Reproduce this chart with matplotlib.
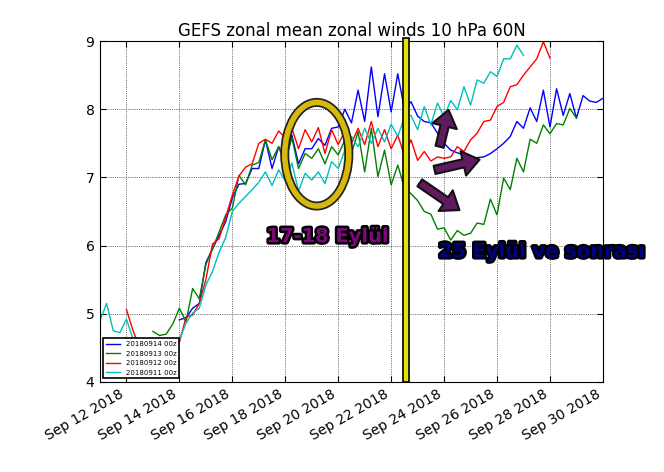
import numpy as np
import matplotlib
matplotlib.use("Agg")
import matplotlib.pyplot as plt
import matplotlib.dates as mdates
import matplotlib.patheffects as pe
from matplotlib.patches import Ellipse, Rectangle
from datetime import datetime, timedelta

# GEFS runs, 6-hourly values over 16 days (65 points each)
runs = ["20180914 00z", "20180913 00z", "20180912 00z", "20180911 00z"]
run_start = [datetime(2018, 9, 14), datetime(2018, 9, 13), datetime(2018, 9, 12), datetime(2018, 9, 11)]
run_color = ["b", "g", "r", "c"]

u_0914 = [4.91, 4.94, 5.08, 5.15, 5.75, 5.95, 6.15, 6.35, 6.70, 6.90,
          6.91, 7.13, 7.13, 7.55, 7.13, 7.45, 7.20, 7.62, 7.20, 7.42,
          7.42, 7.57, 7.47, 7.72, 7.74, 8.00, 7.80, 8.28, 7.82, 8.62,
          7.89, 8.52, 7.96, 8.52, 8.00, 8.11, 7.90, 7.82, 7.80, 7.65,
          7.50, 7.40, 7.36, 7.33, 7.28, 7.29, 7.30, 7.35, 7.42, 7.50,
          7.60, 7.82, 7.72, 8.02, 7.82, 8.28, 7.74, 8.30, 7.91, 8.23,
          7.87, 8.20, 8.12, 8.10, 8.16]
u_0913 = [4.74, 4.68, 4.70, 4.85, 5.08, 4.88, 5.37, 5.22, 5.72, 5.95,
          6.20, 6.45, 6.55, 7.03, 6.89, 7.18, 7.22, 7.55, 7.26, 7.45,
          7.25, 7.58, 7.13, 7.35, 7.28, 7.42, 7.20, 7.45, 7.33, 7.55,
          7.35, 7.67, 7.08, 7.72, 7.01, 7.40, 6.89, 7.18, 6.85, 6.76,
          6.66, 6.50, 6.46, 6.24, 6.26, 6.08, 6.22, 6.15, 6.18, 6.33,
          6.31, 6.68, 6.45, 6.99, 6.82, 7.28, 7.08, 7.56, 7.50, 7.77,
          7.64, 7.79, 7.77, 8.01, 7.87]
u_0912 = [5.06, 4.75, 4.50, 4.45, 4.48, 4.45, 4.42, 4.45, 4.58, 4.95,
          4.98, 5.15, 5.50, 6.02, 6.10, 6.42, 6.74, 7.02, 7.15, 7.20,
          7.50, 7.56, 7.50, 7.68, 7.58, 7.72, 7.42, 7.70, 7.52, 7.73,
          7.35, 7.70, 7.48, 7.68, 7.50, 7.72, 7.48, 7.82, 7.45, 7.70,
          7.42, 7.62, 7.32, 7.55, 7.25, 7.38, 7.24, 7.30, 7.28, 7.30,
          7.45, 7.38, 7.55, 7.65, 7.82, 7.84, 8.04, 8.10, 8.33, 8.36,
          8.50, 8.62, 8.74, 8.99, 8.75]
u_0911 = [4.90, 5.15, 4.75, 4.72, 4.92, 4.62, 4.55, 4.50, 4.48, 4.45,
          4.42, 4.45, 4.62, 4.86, 5.01, 5.08, 5.42, 5.62, 5.90, 6.12,
          6.50, 6.62, 6.72, 6.82, 6.93, 7.08, 6.88, 7.11, 6.95, 7.21,
          6.80, 7.06, 6.96, 7.08, 6.91, 7.23, 7.13, 7.40, 7.60, 7.45,
          7.72, 7.50, 7.72, 7.52, 7.78, 7.60, 7.88, 7.91, 7.70, 8.04,
          7.77, 8.09, 7.89, 8.13, 7.99, 8.33, 8.06, 8.43, 8.38, 8.55,
          8.48, 8.74, 8.74, 8.94, 8.79]
run_values = [u_0914, u_0913, u_0912, u_0911]

fig = plt.figure(figsize=(6.64, 4.72), dpi=100)
ax = fig.add_axes([0.1506, 0.191, 0.7574, 0.722])

for name, start, col, vals in zip(runs, run_start, run_color, run_values):
    times = [start + timedelta(hours=6 * i) for i in range(len(vals))]
    ax.plot(times, vals, color=col, lw=1, label=name)

ax.set_xlim(datetime(2018, 9, 11), datetime(2018, 9, 30))
ax.set_ylim(4, 9)
ax.set_yticks(range(4, 10))
ax.xaxis.set_major_locator(mdates.DayLocator(bymonthday=range(12, 31, 2)))
ax.xaxis.set_major_formatter(mdates.DateFormatter("%b %d %Y"))
ax.grid(True, color="k", linestyle=":", linewidth=0.5)
ax.tick_params(direction="in", top=True, right=True, length=4, labelsize=10, pad=4)
plt.setp(ax.get_xticklabels(), rotation=30, ha="right")
ax.set_title("GEFS zonal mean zonal winds 10 hPa 60N", fontsize=12, pad=4)

leg = ax.legend(loc="lower left", fontsize=5, fancybox=False, framealpha=1)
leg.get_frame().set_edgecolor("k")
leg.get_frame().set_linewidth(1.2)

d0 = mdates.date2num(datetime(2018, 9, 11))

# highlight ellipse around 17-18 Sept
ell = Ellipse((d0 + 8.19, 7.34), 2.42, 1.52, fill=False, edgecolor="#d8b80a", lw=4, zorder=5)
ell.set_path_effects([pe.Stroke(linewidth=6.5, foreground="#222222"), pe.Normal()])
ax.add_patch(ell)

# vertical marker bar
bar = Rectangle((d0 + 11.45, 0), 0.22, 1.01, transform=ax.get_xaxis_transform(),
                facecolor="#e3e30a", edgecolor="k", lw=1.2, clip_on=False, zorder=6)
ax.add_patch(bar)

# arrows
arrow_style = "simple,head_width=1.8,head_length=1.2,tail_width=0.6"
arrows = [((12.83, 7.45), (13.17, 7.99)),
          ((12.64, 7.11), (14.34, 7.26)),
          ((12.08, 6.92), (13.58, 6.52))]
for (t0, v0), (t1, v1) in arrows:
    ax.annotate("", xy=(d0 + t1, v1), xytext=(d0 + t0, v0),
                arrowprops=dict(arrowstyle=arrow_style, fc="#5e1b60", ec="#111111", lw=1.5,
                                shrinkA=0, shrinkB=0, mutation_scale=10), zorder=7)

txt_fx = [pe.withStroke(linewidth=3.5, foreground="k")]
ax.text(d0 + 8.6, 6.13, "17-18 Eylül", fontsize=14, fontweight="bold", color="#7a0a7a",
        ha="center", va="center", path_effects=txt_fx, zorder=8)
ax.text(d0 + 16.7, 5.91, "25 Eylül ve sonrası", fontsize=14, fontweight="bold", color="#000080",
        ha="center", va="center", path_effects=txt_fx, clip_on=False, zorder=8)

fig.savefig("out.png", dpi=100)
